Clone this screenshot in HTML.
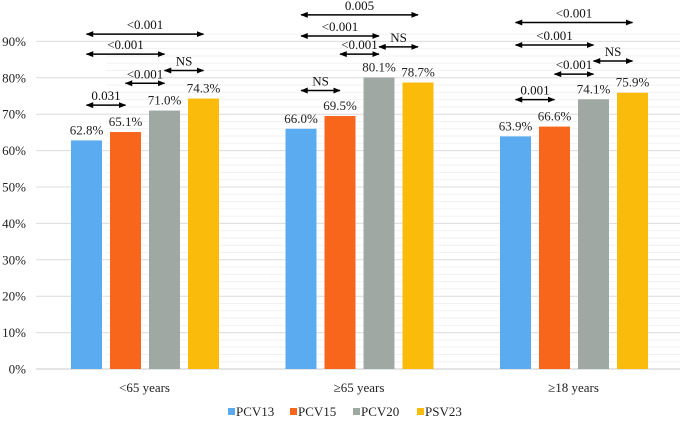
<!DOCTYPE html>
<html><head><meta charset="utf-8"><style>
body{margin:0;background:#fff}
svg{display:block}
svg text{font-family:"Liberation Serif","Times New Roman",serif}
</style></head><body>
<svg id="c" width="680" height="422" viewBox="0 0 680 422" font-family="Liberation Serif, serif">
<defs><marker id="ah" viewBox="0 0 10 10" refX="9" refY="5" markerWidth="5" markerHeight="5" orient="auto-start-reverse"><path d="M0,1 L10,5 L0,9 z" fill="#000"/></marker></defs>
<g id="grid"></g><g id="bars"></g><g id="ann"></g><g id="legend"></g>
</svg>
<script>
const categories=["<65 years","≥65 years","≥18 years"];
const seriesNames=["PCV13","PCV15","PCV20","PSV23"];
const colors=["#5aabef","#f8661c","#a0a8a4","#fbbb0a"];
const pcv13=[62.8,66.0,63.9];
const pcv15=[65.1,69.5,66.6];
const pcv20=[71.0,80.1,74.1];
const psv23=[74.3,78.7,75.9];
const yTicks=[0,10,20,30,40,50,60,70,80,90];
// annotations: [group, fromBar, toBar]
const annFrom=[[0,0,1],[0,1,2],[0,2,3],[0,0,2],[0,0,3],[1,0,1],[1,1,2],[1,2,3],[1,0,2],[1,0,3],[2,0,1],[2,1,2],[2,2,3],[2,0,2],[2,0,3]];
const annLabels=["0.031","<0.001","NS","<0.001","<0.001","NS","<0.001","NS","<0.001","0.005","0.001","<0.001","NS","<0.001","<0.001"];
const annLevels=[72.5,78.5,82,86.5,92,76.5,86.5,88.5,91.5,97.3,74,81.0,84.6,89,95.2];
const series=[pcv13,pcv15,pcv20,psv23];
const NS="http://www.w3.org/2000/svg";
const y0=369, ppu=3.64, xL=36, xR=680;
const y=v=>y0-v*ppu;
const groupX=g=>71+g*214.5;
const barX=(g,s)=>groupX(g)+s*39;
const bw=31;
const FF="Liberation Serif, Times New Roman, serif";
function mk(t,a,p){const e=document.createElementNS(NS,t);for(const k in a)e.setAttribute(k,a[k]);if(t==='text')e.setAttribute('font-family',FF);p.appendChild(e);return e;}
const grid=document.getElementById('grid');
for(let v=0;v<=92;v+=2){if(v%10)mk('line',{x1:xL+70,x2:xR,y1:y(v),y2:y(v),stroke:'#f2f2f2','stroke-width':1},grid);}
yTicks.forEach(v=>{
 const l=mk('line',{x1:xL,x2:xR,y1:y(v),y2:y(v),stroke:v?'#dcdcdc':'#c8c8c8','stroke-width':1},grid);
 
 
 const t=mk('text',{x:26,y:y(v)+4.5,'font-size':13,'text-anchor':'end',fill:'#222'},grid);
 t.textContent=v+'%';
 
 
});
const bars=document.getElementById('bars');
categories.forEach((c,g)=>{
 series.forEach((arr,s)=>{
  const r=mk('rect',{x:barX(g,s),y:y(arr[g]),width:bw,height:y0-y(arr[g]),fill:colors[s]},bars);
  
  
  const t=mk('text',{x:barX(g,s)+bw/2,y:y(arr[g])-6,'font-size':13,'text-anchor':'middle',fill:'#222'},bars);
  t.textContent=arr[g].toFixed(1)+'%';
  
  
 });
 const t=mk('text',{x:groupX(g)+73.5,y:392,'font-size':13,'text-anchor':'middle',fill:'#222'},bars);
 t.textContent=c;
 
 
});
const ann=document.getElementById('ann');
annFrom.forEach((a,i)=>{
 const [g,f,t2]=a;
 const x1=barX(g,f)+bw/2, x2=barX(g,t2)+bw/2, yy=y(annLevels[i]);
 const l=mk('line',{x1:x1,x2:x2,y1:yy,y2:yy,stroke:'#000','stroke-width':1.5,'marker-start':'url(#ah)','marker-end':'url(#ah)'},ann);
 
 
 const tx=mk('text',{x:(x1+x2)/2,y:yy-5,'font-size':13,'text-anchor':'middle',fill:'#111'},ann);
 tx.textContent=annLabels[i];
 
 
});
const lg=document.getElementById('legend');
const lx=[228,290,353,417];
seriesNames.forEach((n,i)=>{
 const r=mk('rect',{x:lx[i],y:408,width:7,height:7,fill:colors[i]},lg);
 
 
 const t=mk('text',{x:lx[i]+8,y:416,'font-size':13,fill:'#222'},lg);
 t.textContent=n;
 
 
});
</script>
</body></html>
